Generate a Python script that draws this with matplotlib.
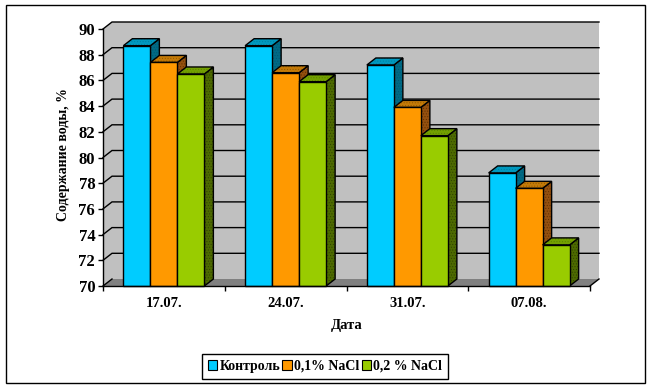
import matplotlib

matplotlib.use("Agg")
import matplotlib.pyplot as plt
import numpy as np
from matplotlib.patches import Patch, Polygon, Rectangle

dates = ["17.07.", "24.07.", "31.07.", "07.08."]
series_names = ["Контроль", "0,1% NaCl", "0,2 % NaCl"]
control = [88.7, 88.7, 87.2, 78.8]
nacl_01 = [87.4, 86.6, 83.9, 77.6]
nacl_02 = [86.5, 85.9, 81.7, 73.2]
y_ticks = [70, 72, 74, 76, 78, 80, 82, 84, 86, 88, 90]

front_colors = ["#00CCFF", "#FF9900", "#99CC00"]
top_colors = ["#0099BF", "#C47A08", "#73A000"]
top_dots = ["#007FA0", "#8F5A00", "#5A8000"]
side_colors = ["#006A85", "#94500F", "#4D6A00"]
side_dots = ["#005570", "#5F3000", "#2F4000"]

W, H = 651, 388
plt.rcParams["font.family"] = ["Liberation Serif", "DejaVu Serif"]
plt.rcParams["font.weight"] = "bold"
plt.rcParams["hatch.linewidth"] = 0.4

fig = plt.figure(figsize=(W / 100, H / 100), dpi=100, facecolor="white")
ax = fig.add_axes([103 / W, (H - 286) / H, 487 / W, 257 / H])
ax.set_xlim(0, len(dates))
ax.set_ylim(70, 90)
ax.patch.set_visible(False)

# depth of the fake 3d box, in data units
px_x = len(dates) / 487
px_y = 20 / 257
dx = 9 * px_x
dy = 7 * px_y
LW = 1.0


def face(points, color, hatch_color, zorder):
    ax.add_patch(Polygon(points, facecolor=color, edgecolor=hatch_color, hatch="......",
                         lw=0, clip_on=False, zorder=zorder))
    ax.add_patch(Polygon(points, fill=False, edgecolor="black", lw=LW,
                         clip_on=False, zorder=zorder))


# walls and floor
n = len(dates)
ax.add_patch(Polygon([(dx, 70 + dy), (n + dx, 70 + dy), (n + dx, 90 + dy), (dx, 90 + dy)],
                     facecolor="#C0C0C0", lw=0, clip_on=False, zorder=0))
ax.add_patch(Polygon([(0, 70), (dx, 70 + dy), (dx, 90 + dy), (0, 90)],
                     facecolor="#C0C0C0", lw=0, clip_on=False, zorder=0))
ax.add_patch(Polygon([(0, 70), (n, 70), (n + dx, 70 + dy), (dx, 70 + dy)],
                     facecolor="#808080", lw=0, clip_on=False, zorder=0))
for v in y_ticks[1:]:
    ax.plot([0, dx, n + dx], [v, v + dy, v + dy], color="black", lw=LW,
            clip_on=False, zorder=1, solid_joinstyle="miter")
ax.plot([0, dx], [70, 70 + dy], color="black", lw=LW, clip_on=False, zorder=1)
ax.plot([n, n + dx], [70, 70 + dy], color="black", lw=LW, clip_on=False, zorder=1)

# bars
values = [control, nacl_01, nacl_02]
bar_w = 27 / 121.75
gap = (1 - 3 * bar_w) / 2
for i in range(n):
    for j, vals in enumerate(values):
        x0 = i + gap + j * bar_w
        x1 = x0 + bar_w
        v = vals[i]
        z = 3 + i * 3 + j
        face([(x1, 70), (x1 + dx, 70 + dy), (x1 + dx, v + dy), (x1, v)],
             side_colors[j], side_dots[j], z)
        face([(x0, v), (x1, v), (x1 + dx, v + dy), (x0 + dx, v + dy)],
             top_colors[j], top_dots[j], z)
        ax.add_patch(Rectangle((x0, 70), bar_w, v - 70, facecolor=front_colors[j],
                               edgecolor="black", lw=LW, clip_on=False, zorder=z + 0.5))

# axes
for s in ["top", "right"]:
    ax.spines[s].set_visible(False)
for s in ["left", "bottom"]:
    ax.spines[s].set_linewidth(LW)
    ax.spines[s].set_zorder(30)

ax.set_yticks(y_ticks)
ax.tick_params(axis="y", length=3.6, width=LW, pad=2, labelsize=12)
ax.set_xticks(np.arange(n + 1))
ax.set_xticklabels([])
ax.tick_params(axis="x", which="major", length=3.6, width=LW)
ax.set_xticks(np.arange(n) + 0.5, minor=True)
ax.set_xticklabels(dates, minor=True, fontsize=10.5)
ax.tick_params(axis="x", which="minor", length=0, pad=8)

fig.text(347 / W, (H - 325) / H, "Дата", fontsize=10.5, ha="center", va="center")
fig.text(63 / W, (H - 155) / H, "Содержание воды, %", fontsize=10, rotation=90,
         ha="center", va="center")

handles = [Patch(facecolor=c, edgecolor="black", lw=0.8) for c in front_colors]
fig.legend(handles, series_names, ncol=3, loc="center", fontsize=10,
           bbox_to_anchor=(325 / W, (H - 366.5) / H), fancybox=False, framealpha=1,
           edgecolor="black", handlelength=0.7, handleheight=0.7, handletextpad=0.15,
           columnspacing=0.15, borderpad=0.4, borderaxespad=0).get_frame().set_linewidth(LW)

# outer frame
fig.add_artist(Rectangle((5.5 / W, (H - 383) / H), 640 / W, 378 / H, fill=False,
                         edgecolor="black", lw=LW, transform=fig.transFigure))

fig.savefig("out.png", dpi=100)
